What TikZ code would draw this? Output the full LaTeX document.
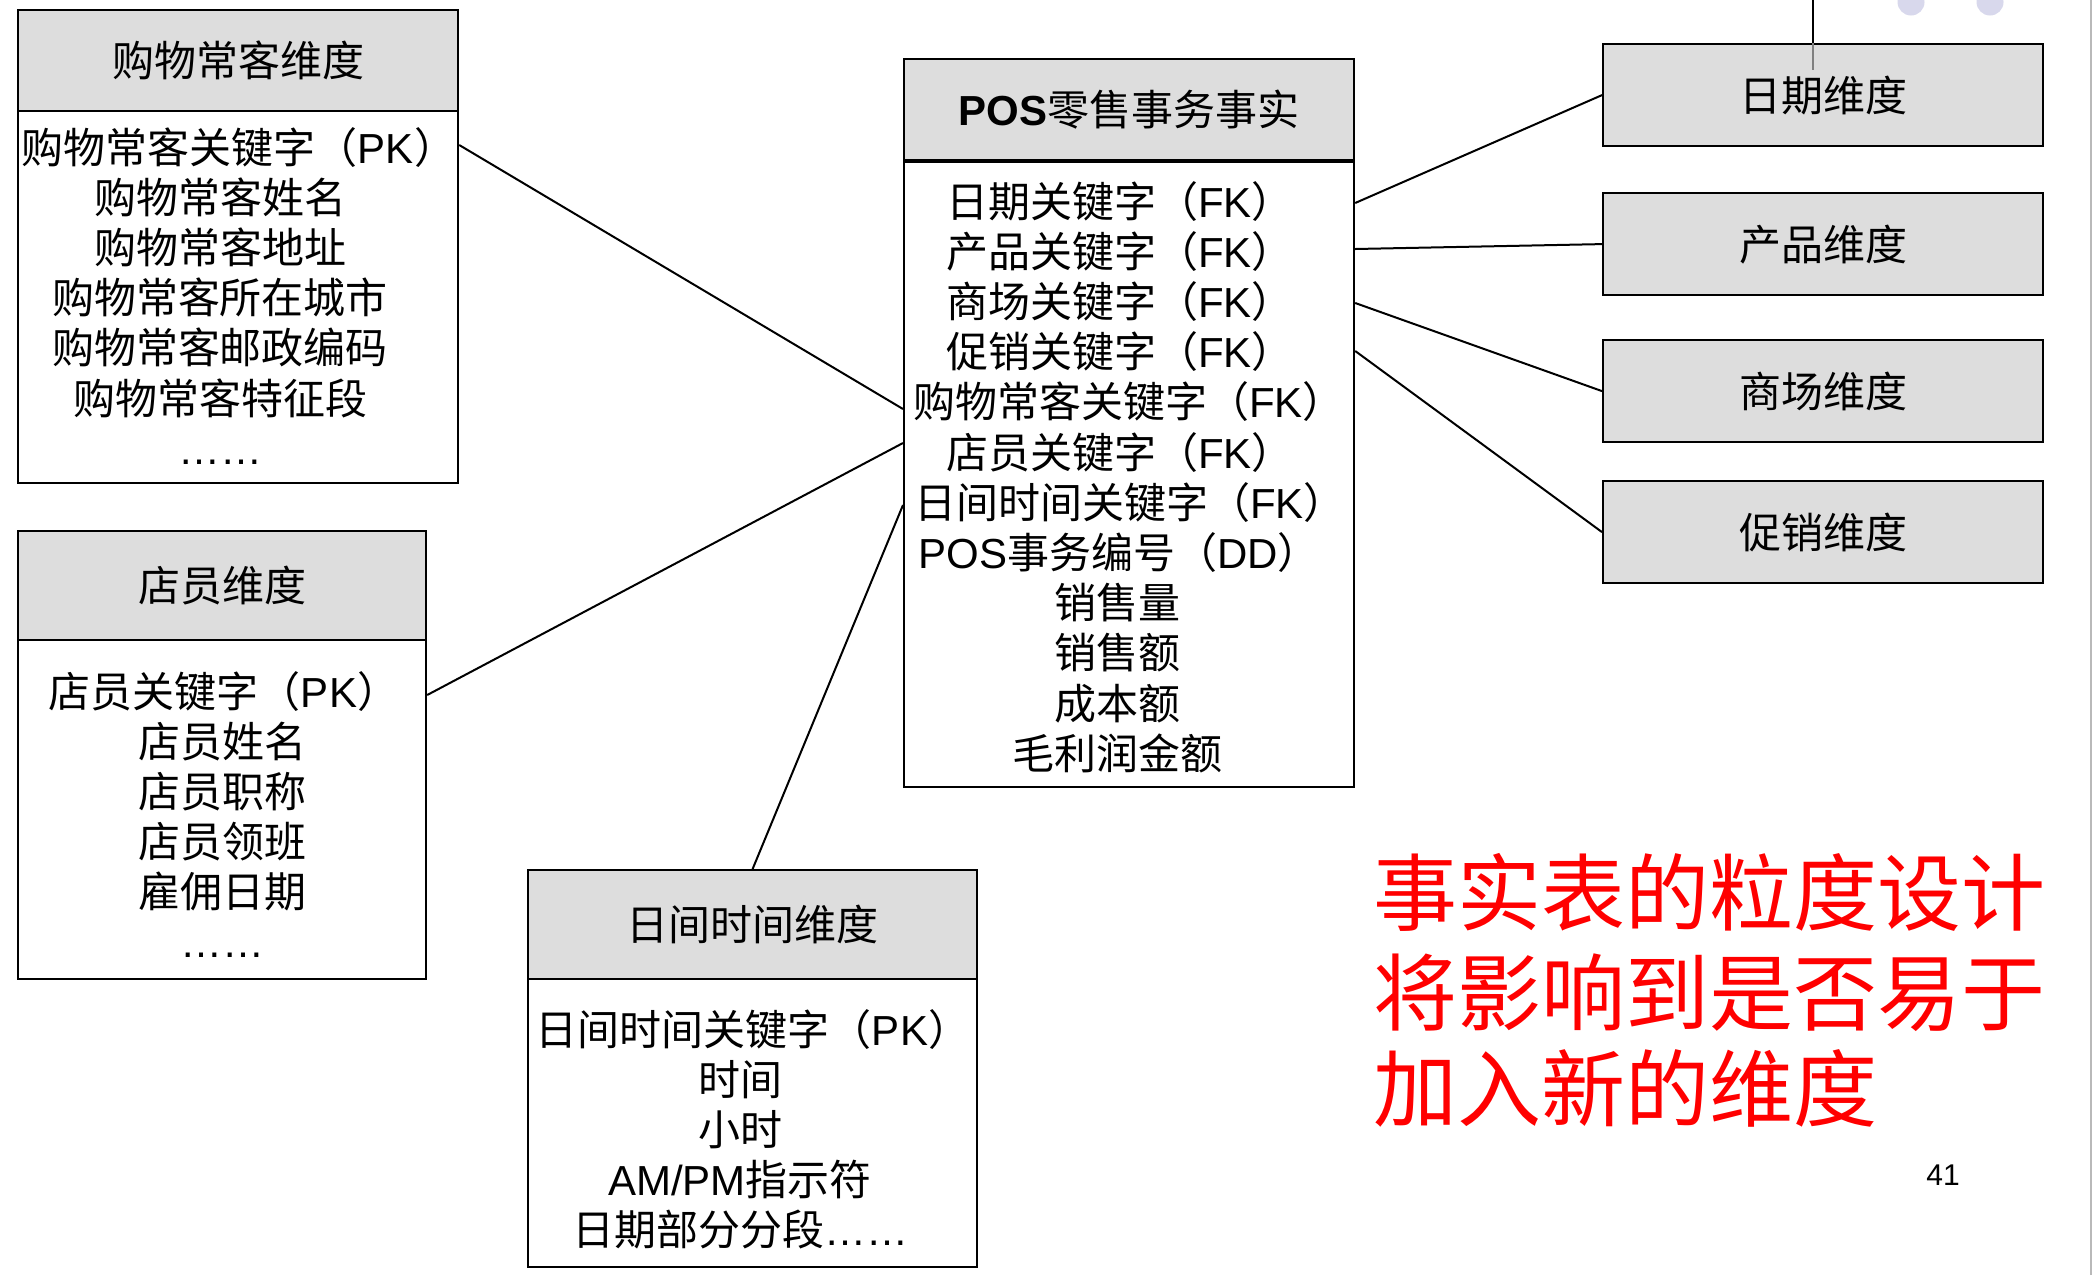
\documentclass[tikz,border=0pt]{standalone}
\usepackage{fontspec}
\setmainfont{Noto Sans CJK SC}
\newfontfamily\ar{Liberation Sans}
\definecolor{headgray}{HTML}{DDDDDD}
\definecolor{lavender}{HTML}{D8D8EC}
\definecolor{slidered}{HTML}{FF0000}
\usetikzlibrary{calc}
\begin{document}
\begin{tikzpicture}[x=0.5pt,y=-0.5pt,
  frame/.style={draw, line width=1.1pt, rectangle, inner sep=0pt, anchor=north west},
  headbox/.style={frame, fill=headgray, font=\fontsize{21pt}{25pt}\selectfont},
  dimbox/.style={frame, fill=headgray, minimum width=220pt, minimum height=51pt, font=\fontsize{21pt}{25pt}\selectfont},
  bodytext/.style={anchor=base, inner sep=0pt, font=\fontsize{21pt}{25pt}\selectfont},
  link/.style={draw, line width=1pt},
  note/.style={anchor=base west, inner sep=0pt, text=slidered, font=\fontsize{42pt}{49pt}\selectfont}]
\useasboundingbox (0,0) rectangle (2093,1275);
\fill[white] (0,0) rectangle (2093,1275);
% decorations at top right and right edge
\fill[lavender] (1911,2) circle (13.5);
\fill[lavender] (1990,2) circle (13.5);
\draw[gray!55, line width=0.6pt] (2091,0) -- (2091,1275);

% customer dimension
\node[headbox, minimum width=220pt, minimum height=50.5pt] (custh) at (17,9) {购物常客维度};
\node[frame, minimum width=220pt, minimum height=236.5pt] (cust) at (17,9) {};
\foreach \t/\dx [count=\i] in {购物常客关键字（{\ar PK}）/19,购物常客姓名/0,购物常客地址/0,购物常客所在城市/0,购物常客邮政编码/0,购物常客特征段/0,{\ar ……}/0}
  \node[bodytext, name=custl\i] at ({220+\dx},{163+50.2*(\i-1)}) {\t};

% clerk dimension
\node[headbox, minimum width=204pt, minimum height=54.5pt] (clerkh) at (17,530) {店员维度};
\node[frame, minimum width=204pt, minimum height=224pt] (clerk) at (17,530) {};
\foreach \t/\dx [count=\i] in {店员关键字（{\ar PK}）/2,店员姓名/0,店员职称/0,店员领班/0,雇佣日期/0,{\ar ……}/0}
  \node[bodytext, name=clerkl\i] at ({222+\dx},{707+50*(\i-1)}) {\t};

% time of day dimension
\node[headbox, minimum width=224.5pt, minimum height=54.5pt] (timeh) at (527,869) {日间时间维度};
\node[frame, minimum width=224.5pt, minimum height=198.5pt] (time) at (527,869) {};
\foreach \t/\dx [count=\i] in {日间时间关键字（{\ar PK}）/13,时间/0,小时/0,{\ar AM/PM}指示符/0,日期部分分段{\ar ……}/0}
  \node[bodytext, name=timel\i] at ({740+\dx},{1045+50*(\i-1)}) {\t};

% fact table
\node[headbox, minimum width=225pt, minimum height=50.5pt] (posh) at (903,58) {{\ar\bfseries POS}零售事务事实};
\node[frame, minimum width=225pt, minimum height=364pt] (pos) at (903,58) {};
\draw[line width=1.8pt] (posh.south west) -- (posh.south east);
\foreach \t/\dx [count=\i] in {日期关键字（{\ar FK}）/3,产品关键字（{\ar FK}）/3,商场关键字（{\ar FK}）/3,促销关键字（{\ar FK}）/3,购物常客关键字（{\ar FK}）/12,店员关键字（{\ar FK}）/3,日间时间关键字（{\ar FK}）/13,{\ar POS}事务编号（{\ar DD}）/2,销售量/0,销售额/0,成本额/0,毛利润金额/0}
  \node[bodytext, name=posl\i] at ({1117+\dx},{217+50.2*(\i-1)}) {\t};

% right-hand dimensions
\node[dimbox] (date) at (1602,43) {日期维度};
\node[dimbox] (prod) at (1602,192) {产品维度};
\node[dimbox] (mall) at (1602,339) {商场维度};
\node[dimbox] (promo) at (1602,480) {促销维度};
\coordinate (topend) at (1813,0);
\draw[line width=1pt] (topend) -- (date.north -| topend);
\draw[line width=1pt, gray] (date.north -| topend) -- ([yshift=-13.5pt]date.north -| topend);

% connectors
\path[link] ([yshift=-68pt]cust.north east) -- ([yshift=-175.5pt]pos.north west);
\path[link] ([yshift=-82.5pt]clerk.north east) -- ([yshift=-192.5pt]pos.north west);
\path[link] (time.north) -- ([yshift=-223.5pt]pos.north west);
\path[link] ([yshift=-72.5pt]pos.north east) -- (date.west);
\path[link] ([yshift=-95.5pt]pos.north east) -- (prod.west);
\path[link] ([yshift=-122.5pt]pos.north east) -- (mall.west);
\path[link] ([yshift=-146.5pt]pos.north east) -- (promo.west);

% note text
\node[note] (note1) at (1373,924) {事实表的粒度设计};
\node[note] (note2) at (1373,1024) {将影响到是否易于};
\node[note] (note3) at (1373,1120) {加入新的维度};
\node[anchor=center, inner sep=0pt, font=\ar\fontsize{15pt}{18pt}\selectfont] (pagenum) at (1943,1175) {41};
\end{tikzpicture}
\end{document}
